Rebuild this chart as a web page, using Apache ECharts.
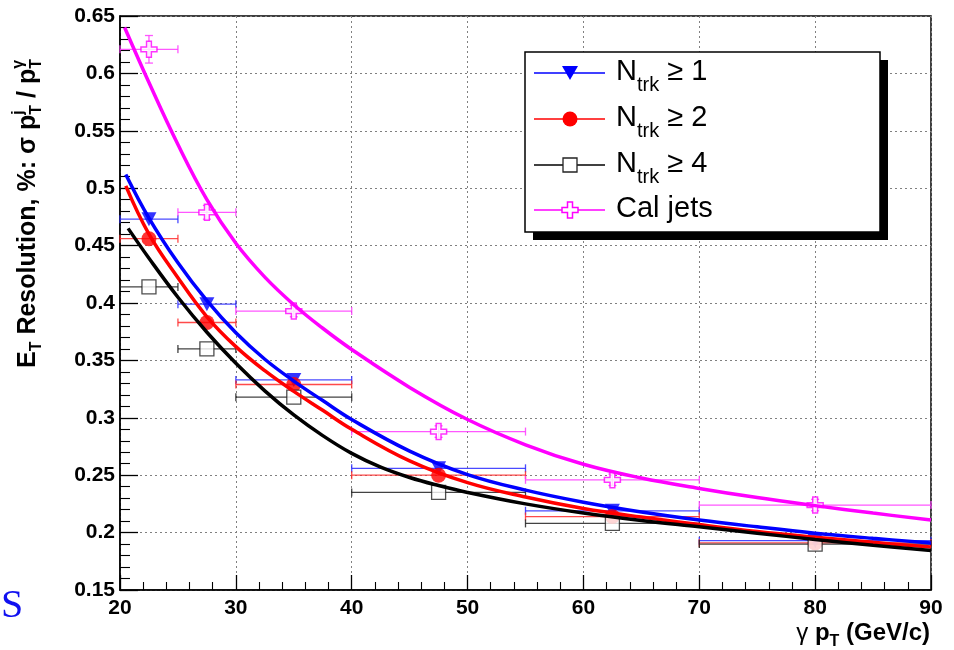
<!DOCTYPE html>
<html><head><meta charset="utf-8">
<script src="https://cdn.jsdelivr.net/npm/echarts@6/dist/echarts.min.js"></script>
<style>html,body{margin:0;padding:0;background:#fff}#c{width:954px;height:650px}</style>
</head><body><div id="c"></div>
<script>
// ---- data ----
const binCenters    = [22.5, 27.5, 35, 47.5, 62.5, 80];
const binHalfWidths = [2.5, 2.5, 5, 7.5, 7.5, 10];
const ntrk1   = [0.473, 0.399, 0.333, 0.256, 0.219, 0.193];
const ntrk2   = [0.456, 0.383, 0.329, 0.250, 0.214, 0.191];
const ntrk4   = [0.414, 0.360, 0.318, 0.235, 0.208, 0.190];
const caljets = [0.621, 0.479, 0.393, 0.288, 0.246, 0.224];
const caljetsErr = [0.012, 0.006, 0.005, 0.005, 0.005, 0.005];

// fit curves
const fit1X = [20.5, 22.5, 25, 27.5, 30, 32.5, 35, 37.5, 40, 45, 50, 55, 60, 65, 70, 75, 80, 85, 90];
const fit1Y = [0.512, 0.474, 0.435, 0.402, 0.374, 0.351, 0.332, 0.315, 0.2985, 0.271, 0.2505, 0.237, 0.2265, 0.218, 0.211, 0.205, 0.1995, 0.195, 0.191];
const fit2X = [20.5, 22.5, 25, 27.5, 30, 32.5, 35, 37.5, 40, 45, 50, 55, 60, 65, 70, 75, 80, 85, 90];
const fit2Y = [0.502, 0.460, 0.422, 0.388, 0.362, 0.341, 0.323, 0.3065, 0.290, 0.2625, 0.2435, 0.231, 0.221, 0.2135, 0.207, 0.201, 0.196, 0.1915, 0.1875];
const fit4X = [20.7, 22.5, 25, 27.5, 30, 32.5, 35, 37.5, 40, 42.5, 45, 47.5, 50, 55, 60, 65, 70, 75, 80, 85, 90];
const fit4Y = [0.465, 0.439, 0.405, 0.3745, 0.3475, 0.3235, 0.3025, 0.2845, 0.269, 0.257, 0.248, 0.241, 0.235, 0.225, 0.217, 0.2105, 0.205, 0.1995, 0.194, 0.189, 0.1845];
const fitCalX = [20.4, 22.5, 25, 27.5, 30, 32.5, 35, 37.5, 40, 45, 50, 55, 60, 65, 70, 75, 80, 85, 90];
const fitCalY = [0.640, 0.592, 0.538, 0.490, 0.452, 0.4225, 0.3985, 0.378, 0.3595, 0.3265, 0.2985, 0.2765, 0.2595, 0.2475, 0.2385, 0.2305, 0.2235, 0.217, 0.211];

const xTicks = {min: 20, max: 90, step: 10};
const yTicks = {min: 0.15, max: 0.65, step: 0.05};

// ---- helpers ----
const SANS = "'Liberation Sans', Arial, Helvetica, sans-serif";
const SERIF = "'Liberation Serif', 'Times New Roman', serif";
const mctx = document.createElement('canvas').getContext('2d');
function tw(t, size, weight, family) {
  mctx.font = (weight || 'normal') + ' ' + size + 'px ' + (family || SANS);
  return mctx.measureText(t).width;
}
function textRun(pieces, baseline, z) {
  let x = 0, prevStart = 0; const children = [];
  pieces.forEach(p => {
    const w = tw(p.t, p.size, p.weight, p.family);
    const px = p.stack ? prevStart : x;
    children.push({type: 'text', z: z || 10, x: px, y: baseline + (p.dy || 0) - 0.35 * p.size,
      style: {text: p.t, fontSize: p.size, fontWeight: p.weight || 'normal', fontFamily: p.family || SANS,
        fill: p.fill || '#000', align: 'left', verticalAlign: 'middle'}});
    if (p.stack) { x = Math.max(x, px + w); } else { prevStart = px; x = px + w; }
  });
  return {children, width: x};
}

const BLUE = '#0000ff', RED = '#ff0000', BLACK = '#000000', MAG = '#ff00ff';
const TRI = 'path://M0,0L10,0L5,9Z';
const CROSS = 'path://M3.5,0H6.5V3.5H10V6.5H6.5V10H3.5V6.5H0V3.5H3.5Z';

function errorBars(values, color, yerrs) {
  return {
    type: 'custom', silent: true, z: 2,
    data: binCenters.map((c, i) => [c, values[i], binHalfWidths[i], yerrs ? yerrs[i] : 0]),
    encode: {x: 0, y: 1},
    renderItem(params, api) {
      const xc = api.value(0), y = api.value(1), hw = api.value(2), ye = api.value(3);
      const a = api.coord([xc - hw, y]), b = api.coord([xc + hw, y]);
      const st = {stroke: color, lineWidth: 1.3, opacity: 0.85};
      const ch = [
        {type: 'line', shape: {x1: a[0], y1: a[1], x2: b[0], y2: b[1]}, style: st},
        {type: 'line', shape: {x1: a[0], y1: a[1] - 4, x2: a[0], y2: a[1] + 4}, style: st},
        {type: 'line', shape: {x1: b[0], y1: b[1] - 4, x2: b[0], y2: b[1] + 4}, style: st}
      ];
      if (ye > 0) {
        const t = api.coord([xc, y + ye]), u = api.coord([xc, y - ye]);
        ch.push({type: 'line', shape: {x1: t[0], y1: t[1], x2: u[0], y2: u[1]}, style: st});
        ch.push({type: 'line', shape: {x1: t[0] - 4, y1: t[1], x2: t[0] + 4, y2: t[1]}, style: st});
        ch.push({type: 'line', shape: {x1: u[0] - 4, y1: u[1], x2: u[0] + 4, y2: u[1]}, style: st});
      }
      return {type: 'group', children: ch};
    }
  };
}
function markers(values, symbol, size, itemStyle) {
  return {type: 'scatter', z: 3, silent: true, symbol, symbolSize: size,
    data: binCenters.map((c, i) => [c, values[i]]), itemStyle};
}
function fitLine(xs, ys, color, z) {
  return {type: 'line', z, silent: true, symbol: 'none', smooth: 0.4,
    data: xs.map((x, i) => [x, ys[i]]), lineStyle: {color, width: 3.5}};
}

// ---- texts ----
const B = 'bold';
const yTitle = textRun([
  {t: 'E', size: 25, weight: B},
  {t: 'T', size: 16, weight: B, dy: 5},
  {t: ' Resolution, %: \u03c3 p', size: 25, weight: B},
  {t: 'T', size: 16, weight: B, dy: 5},
  {t: 'j', size: 16, weight: B, dy: -13, stack: true},
  {t: ' / p', size: 25, weight: B},
  {t: 'T', size: 16, weight: B, dy: 5},
  {t: '\u03b3', size: 16, weight: B, dy: -13, stack: true}
], 0);
const xTitle = textRun([
  {t: '\u03b3', size: 24},
  {t: ' p', size: 24, weight: B},
  {t: 'T', size: 16, weight: B, dy: 5},
  {t: ' (GeV/c)', size: 24, weight: B}
], 0);

const legendRows = [
  {label: ['N', 'trk', ' \u2265 1'], color: BLUE, sym: 'tri', y: 73},
  {label: ['N', 'trk', ' \u2265 2'], color: RED, sym: 'circle', y: 119},
  {label: ['N', 'trk', ' \u2265 4'], color: BLACK, sym: 'square', y: 165},
  {label: ['Cal jets'], color: MAG, sym: 'cross', y: 210}
];
const legendEls = [
  {type: 'rect', shape: {x: 533, y: 60, width: 355, height: 180}, style: {fill: '#000'}, z: 100},
  {type: 'rect', shape: {x: 525, y: 52, width: 355, height: 180}, style: {fill: '#fff', stroke: '#000', lineWidth: 1.5}, z: 101}
];
legendRows.forEach(r => {
  legendEls.push({type: 'line', shape: {x1: 534, y1: r.y, x2: 605, y2: r.y}, style: {stroke: r.color, lineWidth: 1.5}, z: 102});
  let shape;
  if (r.sym === 'tri') shape = {type: 'polygon', shape: {points: [[562, r.y - 7], [578, r.y - 7], [570, r.y + 7]]}, style: {fill: BLUE}};
  else if (r.sym === 'circle') shape = {type: 'circle', shape: {cx: 570, cy: r.y, r: 7.5}, style: {fill: RED}};
  else if (r.sym === 'square') shape = {type: 'rect', shape: {x: 563, y: r.y - 7, width: 14, height: 14}, style: {fill: '#fff', stroke: '#222', lineWidth: 1.3}};
  else shape = {type: 'polygon', shape: {points: [[567.5,r.y-8],[572.5,r.y-8],[572.5,r.y-2.5],[578,r.y-2.5],[578,r.y+2.5],[572.5,r.y+2.5],[572.5,r.y+8],[567.5,r.y+8],[567.5,r.y+2.5],[562,r.y+2.5],[562,r.y-2.5],[567.5,r.y-2.5]]}, style: {fill: '#fff', stroke: MAG, lineWidth: 1.5}};
  shape.z = 103; legendEls.push(shape);
  const pcs = r.label.length === 3
    ? [{t: 'N', size: 29}, {t: 'trk', size: 20, dy: 10}, {t: r.label[2], size: 29}]
    : [{t: r.label[0], size: 29}];
  const run = textRun(pcs, 0, 110);
  legendEls.push({type: 'group', x: 616, y: r.y + 9, children: run.children, z: 110});
});

const option = {
  animation: false,
  backgroundColor: '#fff',
  grid: {left: 120, right: 23, top: 16, bottom: 60, show: true, borderColor: '#000', borderWidth: 1.5, backgroundColor: 'transparent'},
  xAxis: {
    type: 'value', min: xTicks.min, max: xTicks.max, interval: xTicks.step,
    axisLine: {show: true, lineStyle: {color: '#000', width: 1.5}},
    axisTick: {show: true, inside: true, length: 15, lineStyle: {color: '#000', width: 1.3}},
    minorTick: {show: true, splitNumber: 5, length: 8, lineStyle: {color: '#000', width: 1.1}},
    splitLine: {show: true, lineStyle: {color: '#808080', width: 1, type: [2, 3]}},
    axisLabel: {color: '#000', fontSize: 21, fontWeight: 'bold', fontFamily: SANS, margin: 8}
  },
  yAxis: {
    type: 'value', min: yTicks.min, max: yTicks.max, interval: yTicks.step,
    axisLine: {show: true, lineStyle: {color: '#000', width: 1.5}},
    axisTick: {show: true, inside: true, length: 18, lineStyle: {color: '#000', width: 1.3}},
    minorTick: {show: true, splitNumber: 5, length: 10, lineStyle: {color: '#000', width: 1.1}},
    splitLine: {show: true, lineStyle: {color: '#808080', width: 1, type: [2, 3]}},
    axisLabel: {color: '#000', fontSize: 21, fontWeight: 'bold', fontFamily: SANS, margin: 5,
      formatter: v => String(+v.toFixed(2))}
  },
  series: [
    errorBars(ntrk1, '#2a2aff'),
    errorBars(ntrk2, '#ff2a2a'),
    errorBars(ntrk4, '#222222'),
    errorBars(caljets, '#ff3aff', caljetsErr),
    markers(ntrk1, TRI, [15, 14], {color: BLUE}),
    markers(ntrk2, 'circle', 15, {color: RED}),
    markers(ntrk4, 'rect', 14, {color: '#fff', borderColor: '#222', borderWidth: 1.3}),
    markers(caljets, CROSS, 16, {color: '#fff', borderColor: MAG, borderWidth: 1.5}),
    fitLine(fit1X, fit1Y, BLUE, 4),
    fitLine(fit2X, fit2Y, RED, 5),
    fitLine(fit4X, fit4Y, BLACK, 6),
    fitLine(fitCalX, fitCalY, MAG, 7)
  ],
  graphic: [
    {type: 'group', x: 37, y: 368, rotation: Math.PI / 2, children: yTitle.children},
    {type: 'group', x: 930 - xTitle.width, y: 642, children: xTitle.children},
    {type: 'text', x: 1, y: 606, style: {text: 'S', fontSize: 40, fontFamily: SERIF, fill: '#1010f0', align: 'left', verticalAlign: 'middle'}},
    ...legendEls
  ]
};
const chart = echarts.init(document.getElementById('c'), null, {width: 954, height: 650});
chart.setOption(option);
</script>
</body></html>
